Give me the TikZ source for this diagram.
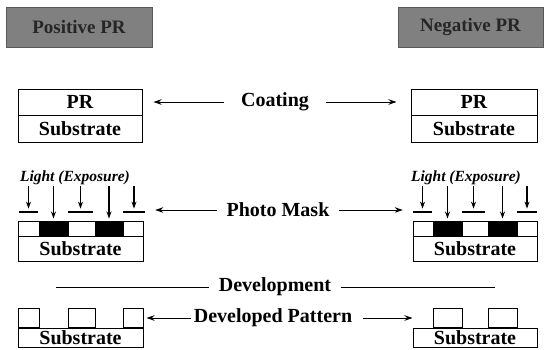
\documentclass[tikz,border=0pt]{standalone}
\usepackage{fontspec}
\setmainfont{Liberation Serif}
\usetikzlibrary{arrows.meta}
\usetikzlibrary{positioning}

\begin{document}
\begin{tikzpicture}[
        x=1pt, y=-1pt,
        layer/.style={rectangle, draw=black, line width=1pt, inner sep=0pt, font=\bfseries\fontsize{20}{20}\selectfont},
        cell/.style={rectangle, draw=black, line width=1pt, inner sep=0pt, minimum height=15pt},
        maskbar/.style={rectangle, fill=black, inner sep=0pt, minimum height=2.4pt},
        header/.style={rectangle, fill=black!50, draw=black!65, inner sep=0pt, minimum height=40pt, text=black!85, font=\bfseries\fontsize{19}{19}\selectfont},
        stage/.style={inner sep=0pt, font=\bfseries\fontsize{20}{20}\selectfont},
        light/.style={inner sep=0pt, font=\bfseries\itshape\fontsize{15.5}{15.5}\selectfont},
        ray/.style={-{Stealth[length=7pt, width=5pt]}, line width=1.1pt},
        conn/.style={-{Stealth[length=8pt, width=5.5pt]}, line width=1pt},
    ]

    \useasboundingbox (0,0) rectangle (548,349);

    % Headers
    \node[header, minimum width=146pt] (HL) at (79,27) {Positive PR};
    \node[header, minimum width=145pt] (HR) at (470.5,27) {Negative PR};

    % Coating
    \node[layer, minimum width=124pt, minimum height=26pt] (CPRL) at (80,102) {PR};
    \node[layer, minimum width=124pt, minimum height=27pt] (CSUBL) at (80,128.5) {Substrate};
    \node[layer, minimum width=126pt, minimum height=26pt] (CPRR) at (474,102) {PR};
    \node[layer, minimum width=126pt, minimum height=27pt] (CSUBR) at (474,128.5) {Substrate};

    \node[stage, inner xsep=17pt] (COAT) at (275,102) {Coating};
    \draw[conn, shorten >=11pt] (COAT.west) -- (CPRL.east);
    \draw[conn, shorten >=14pt] (COAT.east) -- (CPRR.west);

    % Exposure through the mask, left side
    \foreach \xa/\xb/\col [count=\i] in {18/39/white, 39/68/black, 68/95/white, 95/123/black, 123/143/white}
        \node[cell, fill=\col, minimum width={(\xb-\xa)*1pt}] (EL\i) at ({(\xa+\xb)/2},228.5) {};
    \node[layer, minimum width=125pt, minimum height=25pt, anchor=north] (ESUBL) at (80.5,236) {Substrate};

    \foreach \xa/\xb [count=\i] in {19/38, 68/93, 123/145}
        \node[maskbar, minimum width={(\xb-\xa)*1pt}] (ML\i) at ({(\xa+\xb)/2},212) {};

    \foreach \i in {1,2,3} {
        \coordinate (RL\i) at (ML\i.north |- 0,186);
        \draw[ray, shorten >=2pt] (RL\i) -- (ML\i.north);
    }
    \foreach \i in {2,4} {
        \coordinate (RLL\i) at (EL\i.north |- 0,186);
        \draw[ray, shorten >=2pt] (RLL\i) -- (EL\i.north);
    }
    \node[light] (LIGHTL) at (75,178) {Light (Exposure)};

    % Exposure through the mask, right side
    \foreach \xa/\xb/\col [count=\i] in {413/433/white, 433/462/black, 462/488/white, 488/517/black, 517/537/white}
        \node[cell, fill=\col, minimum width={(\xb-\xa)*1pt}] (ER\i) at ({(\xa+\xb)/2},228.5) {};
    \node[layer, minimum width=124pt, minimum height=25pt, anchor=north] (ESUBR) at (475,236) {Substrate};

    \foreach \xa/\xb [count=\i] in {413/432, 462/485, 517/537}
        \node[maskbar, minimum width={(\xb-\xa)*1pt}] (MR\i) at ({(\xa+\xb)/2},212) {};

    \foreach \i in {1,2,3} {
        \coordinate (RR\i) at (MR\i.north |- 0,186);
        \draw[ray, shorten >=2pt] (RR\i) -- (MR\i.north);
    }
    \foreach \i in {2,4} {
        \coordinate (RRL\i) at (ER\i.north |- 0,186);
        \draw[ray, shorten >=2pt] (RRL\i) -- (ER\i.north);
    }
    \node[light] (LIGHTR) at (466,178) {Light (Exposure)};

    \node[stage, inner xsep=9pt] (MASK) at (278,210) {Photo Mask};
    \draw[conn, shorten >=10pt] (MASK.west) -- (MASK.west -| ML3.east);
    \draw[conn, shorten >=10pt] (MASK.east) -- (MASK.east -| MR1.west);

    % Development
    \node[stage, inner xsep=10pt] (DEV) at (275,287) {Development};
    \coordinate (DEVL) at (56,287);
    \coordinate (DEVR) at (495,287);
    \draw[line width=.9pt] (DEVL) -- (DEV.west);
    \draw[line width=.9pt] (DEV.east) -- (DEVR);

    % Developed pattern
    \node[layer, minimum width=125pt, minimum height=19pt, anchor=north] (DSUBL) at (80.5,328) {Substrate};
    \foreach \xa/\xb [count=\i] in {18/39, 68/95, 123/143}
        \node[cell, minimum width={(\xb-\xa)*1pt}, minimum height=19pt, anchor=south] (DL\i) at ({(\xa+\xb)/2},328) {};

    \node[layer, minimum width=124pt, minimum height=19pt, anchor=north] (DSUBR) at (475,328) {Substrate};
    \foreach \xa/\xb [count=\i] in {433/462, 488/517}
        \node[cell, minimum width={(\xb-\xa)*1pt}, minimum height=19pt, anchor=south] (DR\i) at ({(\xa+\xb)/2},328) {};

    \node[stage, inner xsep=3pt] (PAT) at (273,318) {Developed Pattern};
    \draw[conn, shorten >=3pt] (PAT.west) -- (PAT.west -| DL3.east);
    \coordinate (PATR) at (363,318);
    \draw[conn] (PATR) -- (PAT.east -| DSUBR.west);
\end{tikzpicture}
\end{document}
